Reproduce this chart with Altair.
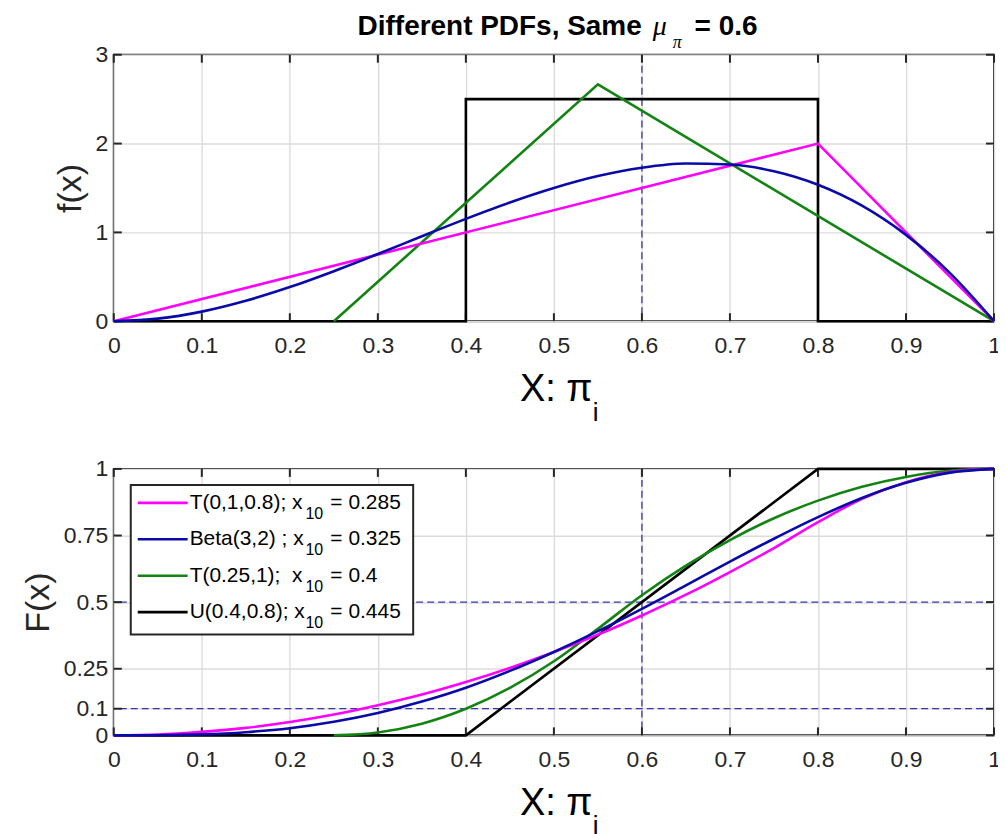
import altair as alt
import pandas as pd

FONT = "Liberation Sans"
DARK = "#262626"
C_MAG = "#ff00ff"
C_BLUE = "#0a0aa8"
C_GREEN = "#138313"
C_BLACK = "#000000"
C_REF = "#3636a8"

# ---------------- data ----------------
x_grid = [0.0, 0.05, 0.1, 0.15, 0.2, 0.25, 0.3, 0.35, 0.4, 0.45, 0.5,
          0.55, 0.6, 0.65, 0.7, 0.75, 0.8, 0.85, 0.9, 0.95, 1.0]

# top panel: PDFs
tri1_pdf_x = [0.0, 0.8, 1.0]
tri1_pdf_y = [0.0, 2.0, 0.0]
beta_pdf = [0.0, 0.029, 0.108, 0.230, 0.384, 0.563, 0.756, 0.956, 1.152, 1.337, 1.500,
            1.634, 1.728, 1.775, 1.764, 1.688, 1.536, 1.301, 0.972, 0.542, 0.0]
tri2_pdf_x = [0.25, 0.55, 1.0]
tri2_pdf_y = [0.0, 2.667, 0.0]
unif_pdf_x = [0.0, 0.4, 0.4, 0.8, 0.8, 1.0]
unif_pdf_y = [0.0, 0.0, 2.5, 2.5, 0.0, 0.0]

# bottom panel: CDFs
tri1_cdf = [0.0, 0.003, 0.013, 0.028, 0.05, 0.078, 0.113, 0.153, 0.2, 0.253, 0.313,
            0.378, 0.45, 0.528, 0.613, 0.703, 0.8, 0.888, 0.95, 0.988, 1.0]
beta_cdf = [0.0, 0.0005, 0.0037, 0.012, 0.027, 0.051, 0.084, 0.127, 0.179, 0.242, 0.313,
            0.391, 0.475, 0.563, 0.652, 0.738, 0.819, 0.891, 0.948, 0.986, 1.0]
tri2_cdf_x = [0.25, 0.3, 0.35, 0.4, 0.45, 0.5, 0.55, 0.6, 0.65, 0.7, 0.75,
              0.8, 0.85, 0.9, 0.95, 1.0]
tri2_cdf = [0.0, 0.011, 0.044, 0.1, 0.178, 0.278, 0.4, 0.526, 0.637, 0.733, 0.815,
            0.881, 0.933, 0.970, 0.993, 1.0]
unif_cdf_x = [0.0, 0.4, 0.8, 1.0]
unif_cdf_y = [0.0, 0.0, 1.0, 1.0]

x_ticks = [0, 0.1, 0.2, 0.3, 0.4, 0.5, 0.6, 0.7, 0.8, 0.9, 1]
top_y_ticks = [0, 1, 2, 3]
bot_y_ticks = [0, 0.1, 0.25, 0.5, 0.75, 1]
mean_line = [0.6]
prob_lines = [0.1, 0.5]

legend_names = ["T(0,1,0.8); x", "Beta(3,2) ; x", "T(0.25,1);\u00a0 x", "U(0.4,0.8); x"]
legend_vals = ["= 0.285", "= 0.325", "= 0.4", "= 0.445"]
legend_colors = [C_MAG, C_BLUE, C_GREEN, C_BLACK]

W, H = 882, 267
ONE = pd.DataFrame({"a": [0]})


def df(xs, ys):
    return pd.DataFrame({"x": xs, "y": ys, "o": list(range(len(xs)))})


def make_panel(y_dom, y_ticks, y_title, curves, hlines):
    xaxis = alt.Axis(values=x_ticks, format=".2~f", title=None, labelFlush=False,
                     labelPadding=13, labelOverlap=False, grid=True)
    yaxis = alt.Axis(values=y_ticks, format=".2~f", title=y_title, labelFlush=False,
                     labelPadding=6, labelOverlap=False, grid=True,
                     titleFontSize=34, titlePadding=8)

    def X(f):
        return alt.X(f, type="quantitative", scale=alt.Scale(domain=[0, 1], nice=False, zero=False), axis=xaxis)

    def Y(f):
        return alt.Y(f, type="quantitative", scale=alt.Scale(domain=y_dom, nice=False, zero=False), axis=yaxis)

    layers = []
    # reference dashed lines
    layers.append(alt.Chart(pd.DataFrame({"x": mean_line})).mark_rule(
        color=C_REF, strokeDash=[7, 4], strokeWidth=1.3).encode(x=X("x")))
    if hlines:
        layers.append(alt.Chart(pd.DataFrame({"y": hlines})).mark_rule(
            color=C_REF, strokeDash=[7, 4], strokeWidth=1.3).encode(y=Y("y")))
    # inward ticks
    xt = pd.DataFrame({"x": x_ticks})
    yt = pd.DataFrame({"y": y_ticks})
    for y0, y1 in [(H, H - 8), (0, 8)]:
        layers.append(alt.Chart(xt).mark_rule(color=DARK, strokeWidth=2).encode(
            x=X("x"), y=alt.value(y0), y2=alt.value(y1)))
    for x0, x1 in [(0, 8), (W - 8, W)]:
        layers.append(alt.Chart(yt).mark_rule(color=DARK, strokeWidth=2).encode(
            y=Y("y"), x=alt.value(x0), x2=alt.value(x1)))
    # curves
    for d, col, interp in curves:
        layers.append(alt.Chart(d).mark_line(color=col, strokeWidth=2.6, interpolate=interp).encode(
            x=X("x"), y=Y("y"), order="o:Q"))
    return layers


def text(t, x, y, size, weight="normal", style="normal", align="left", font=FONT):
    return alt.Chart(ONE).mark_text(text=t, align=align, baseline="alphabetic", font=font,
                                    fontSize=size, fontWeight=weight, fontStyle=style,
                                    color="#000000").encode(x=alt.value(x), y=alt.value(y))


def xlabel(i_base):
    return [text("X: \u03c0", 407, 347, 38),
            text("i", 480, i_base, 26)]


# ---------------- top panel ----------------
top_curves = [
    (df(unif_pdf_x, unif_pdf_y), C_BLACK, "linear"),
    (df(tri2_pdf_x, tri2_pdf_y), C_GREEN, "linear"),
    (df(tri1_pdf_x, tri1_pdf_y), C_MAG, "linear"),
    (df(x_grid, beta_pdf), C_BLUE, "monotone"),
]
top_layers = make_panel([0, 3], top_y_ticks, "f(x)", top_curves, None)
top_layers += [
    text("Different PDFs, Same", 529, -20, 28, weight="bold", align="right"),
    text("\u03bc", 540, -20, 28, style="italic", font="Liberation Serif"),
    text("\u03c0", 560, -7, 18, style="italic", font="Liberation Serif"),
    text("= 0.6", 582, -20, 28, weight="bold"),
]
top_layers += xlabel(367)
top = alt.layer(*top_layers).properties(width=W, height=H)

# ---------------- bottom panel ----------------
bot_curves = [
    (df(unif_cdf_x, unif_cdf_y), C_BLACK, "linear"),
    (df(tri2_cdf_x, tri2_cdf), C_GREEN, "monotone"),
    (df(x_grid, tri1_cdf), C_MAG, "monotone"),
    (df(x_grid, beta_cdf), C_BLUE, "monotone"),
]
bot_layers = make_panel([0, 1], bot_y_ticks, "F(x)", bot_curves, prob_lines)
# legend box
bot_layers.append(alt.Chart(ONE).mark_rect(fill="white", stroke=DARK, strokeWidth=2).encode(
    x=alt.value(17), x2=alt.value(300), y=alt.value(16), y2=alt.value(166)))
for i, (nm, val, col) in enumerate(zip(legend_names, legend_vals, legend_colors)):
    base = 40 + i * 36.5
    bot_layers.append(alt.Chart(ONE).mark_rule(color=col, strokeWidth=2.6).encode(
        x=alt.value(24), x2=alt.value(74), y=alt.value(base - 6)))
    bot_layers.append(text(nm, 76, base, 21))
    bot_layers.append(text("10", 192, base + 10, 16))
    bot_layers.append(text(val, 217, base, 21))
bot_layers += xlabel(366)
bottom = alt.layer(*bot_layers).properties(width=W, height=H)

chart = alt.vconcat(top, bottom, spacing=148, bounds="flush").properties(
    padding={"left": 12, "top": 3, "right": -4, "bottom": 0},
    background="white",
).configure_view(stroke=DARK, strokeWidth=2).configure_axis(
    domain=False, ticks=False, tickSize=0, gridColor="#dcdcdc", gridWidth=1.4,
    labelFont=FONT, labelFontSize=23, labelColor=DARK,
    titleFont=FONT, titleFontWeight="normal", titleColor=DARK
)

chart.save("out.html", embed_options={"renderer": "svg", "actions": False})
